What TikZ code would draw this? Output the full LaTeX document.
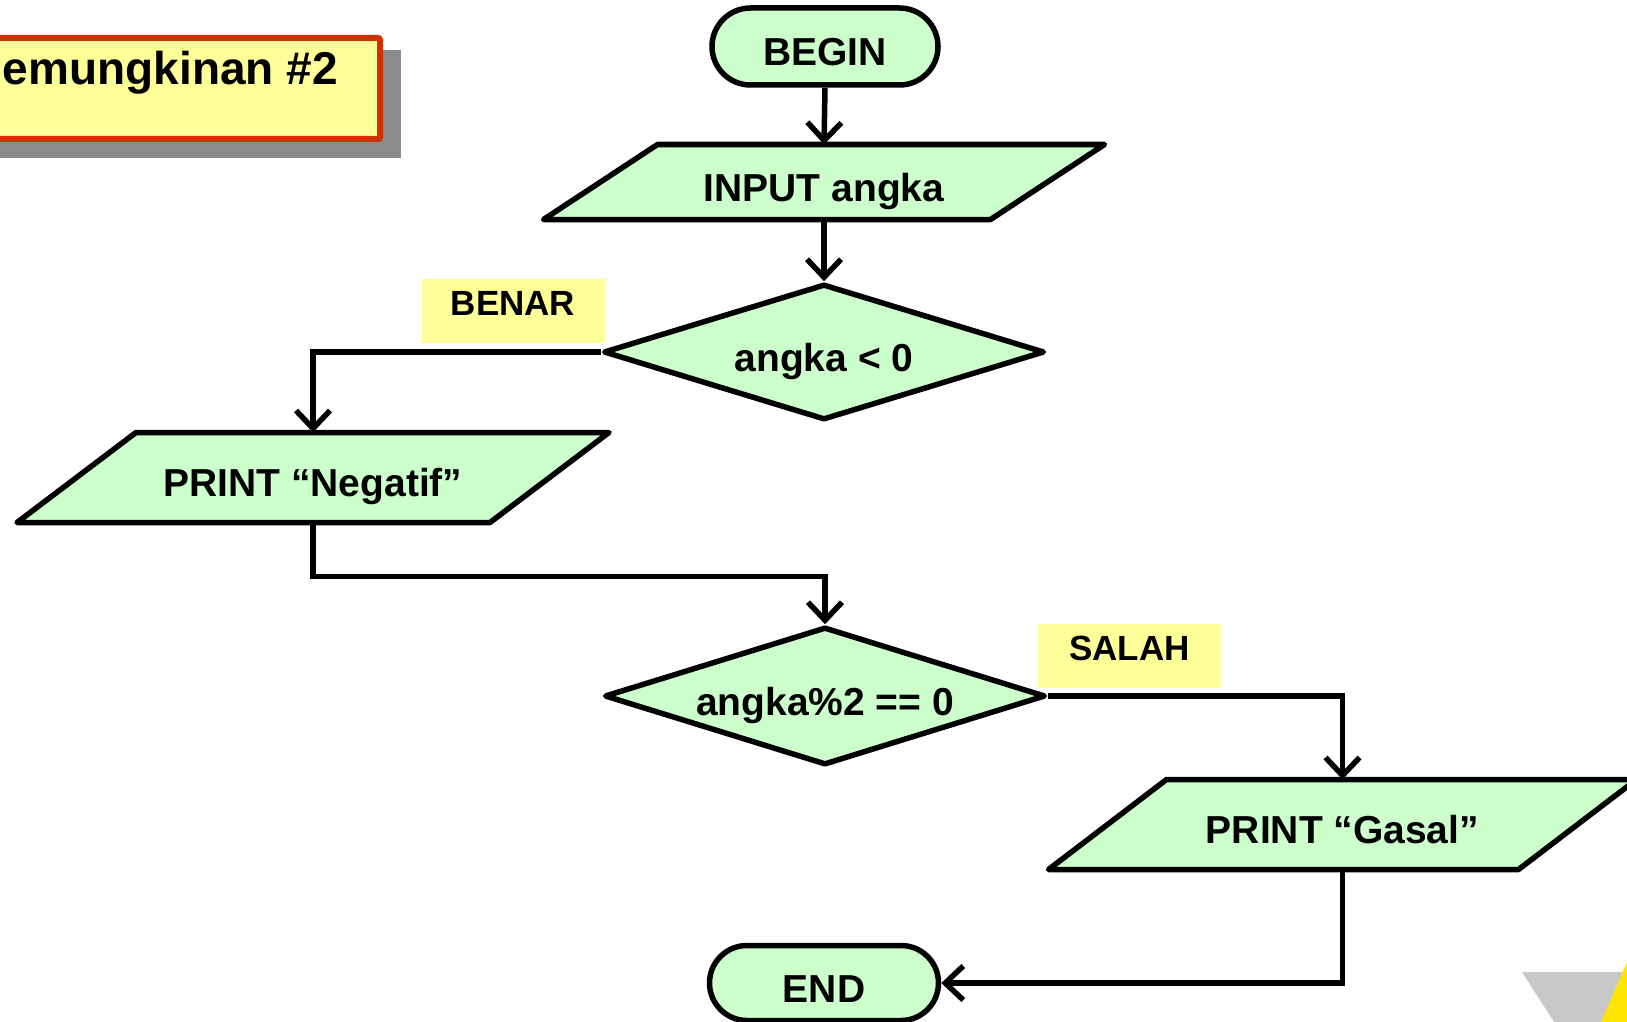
\documentclass[tikz,border=0pt]{standalone}
\usepackage{fontspec}
\setmainfont{Liberation Sans}
\usetikzlibrary{arrows.meta,shapes.geometric,shapes.misc,calc,backgrounds}

\definecolor{boxgreen}{HTML}{CCFFCC}
\definecolor{notey}{HTML}{FFFF99}
\definecolor{titlered}{HTML}{CC3300}
\definecolor{shadowgray}{HTML}{8C8C8C}
\definecolor{logogray}{HTML}{C8C8C8}
\definecolor{logoyellow}{HTML}{FFE600}

\tikzset{
  flowtext/.style={font=\bfseries\fontsize{39}{47}\selectfont, text height=38pt, text depth=0pt},
  flow/.style={flowtext, line width=5.5pt, draw=black, fill=boxgreen, inner sep=0pt},
  term/.style={flow, rounded rectangle, minimum width=226pt, minimum height=77pt},
  decision/.style={flow, diamond, aspect=3.3, line join=round},
  iobox/.style={flowtext, inner sep=0pt, outer sep=0pt, draw=none},
  ioshape/.style={line width=5.5pt, draw=black, fill=boxgreen, line join=round},
  conn/.style={line width=5.5pt, -{Straight Barb[length=18pt,width=34pt]}},
  tag/.style={fill=notey, inner sep=0pt, minimum width=183pt, text height=36pt,
    text depth=28pt, font=\bfseries\fontsize{35}{42}\selectfont},
}

% parallelogram drawn around a rectangular node; #2 is half the horizontal slant
\newcommand\drawpara[2]{%
  \draw[ioshape] ($(#1.north west)+(#2,0)$) -- ($(#1.north east)+(#2,0)$)
    -- ($(#1.south east)-(#2,0)$) -- ($(#1.south west)-(#2,0)$) -- cycle;}

\begin{document}
\begin{tikzpicture}[x=1pt,y=-1pt]
\useasboundingbox (0,0) rectangle (1627,1022);

% title card with drop shadow
\fill[shadowgray] (-40,50) rectangle (401,158);
\node[draw=titlered, line width=6pt, fill=notey, minimum width=420pt,
  minimum height=101pt, inner sep=0pt, rounded corners=2pt] (titlecard) at (170,88.5) {};
\node[anchor=base east, inner sep=0pt, font=\bfseries\fontsize{46}{55}\selectfont]
  (title) at (338,85) {emungkinan \#2};

% flowchart symbols
\node[term] (begin) at (825,46.5) {BEGIN};
\node[iobox, minimum width=447pt, minimum height=75pt] (input) at (824,182) {INPUT angka};
\node[decision, minimum width=441pt, minimum height=136pt] (d1) at (824,352) {angka < 0};
\node[iobox, minimum width=473pt, minimum height=90pt] (neg) at (313,477.5) {PRINT “Negatif”};
\node[decision, minimum width=441pt, minimum height=138pt] (d2) at (825,696) {angka\%2 == 0};
\node[iobox, minimum width=470pt, minimum height=90pt] (gas) at (1342.5,824.5) {PRINT “Gasal”};
\node[term, minimum width=229pt, minimum height=75pt] (end) at (824,983) {END};

\begin{scope}[on background layer]
  \drawpara{input}{57}
  \drawpara{neg}{59.5}
  \drawpara{gas}{59}
\end{scope}

% branch labels
\node[tag, anchor=base] (benar) at (513,315) {BENAR\hspace{20pt}};
\node[tag, anchor=base] (salah) at (1129.5,660) {SALAH\hspace{20pt}};

% connectors
\draw[conn] (begin.south) -- (input.north);
\draw[conn] (input.south) -- (d1.north);
\draw[conn] (d1.west) -| (neg.north);
\draw[conn] (neg.south) -- ++(0,54) -| (d2.north);
\draw[conn] (d2.east) -| (gas.north);
\draw[conn] (gas.south) |- (end.east);

% corner logo fragment
\fill[logogray] (1522,972) -- (1624,972) -- (1601,1022) -- (1554,1022) -- cycle;
\fill[logoyellow] (1627,962) -- (1601,1022) -- (1627,1022) -- cycle;
\end{tikzpicture}
\end{document}
